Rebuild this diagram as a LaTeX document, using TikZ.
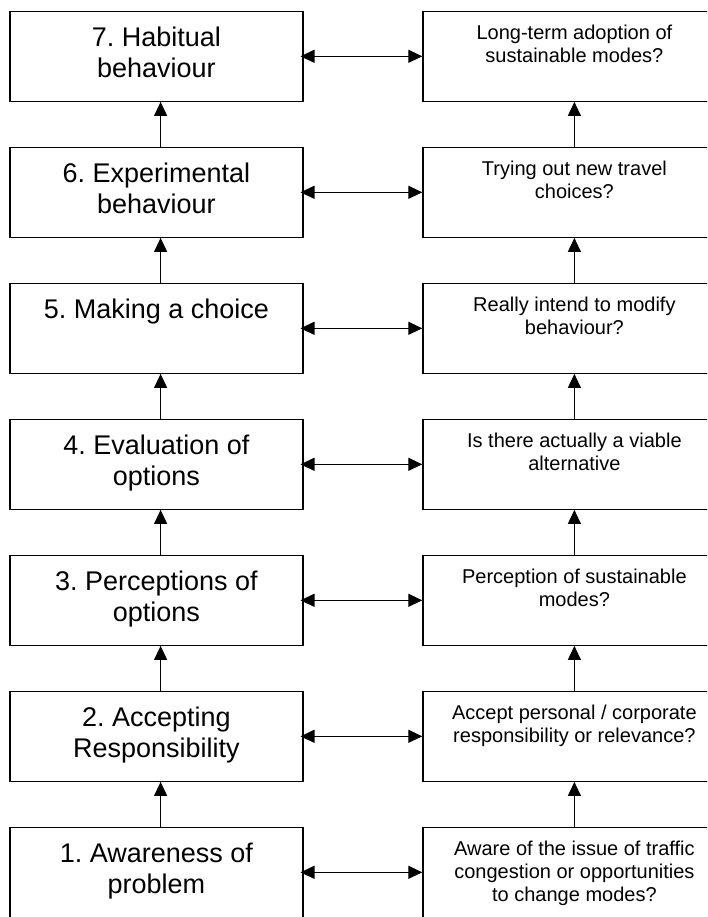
\documentclass[tikz,border=0pt]{standalone}
\usepackage{fontspec}
\setmainfont{Liberation Sans}
\usetikzlibrary{arrows.meta}
\frenchspacing
\begin{document}
\begin{tikzpicture}[x=1pt,y=-1pt,
  stagebox/.style={draw=black,line width=1.2pt,minimum width=293pt,minimum height=90pt,inner sep=0pt,anchor=north west},
  askbox/.style={draw=black,line width=1.2pt,minimum width=303pt,minimum height=90pt,inner sep=0pt,anchor=north west},
  stagetext/.style={anchor=north,inner sep=0pt,align=center,font=\fontsize{27}{31.5}\selectfont},
  asktext/.style={anchor=north,inner sep=0pt,align=center,font=\fontsize{20}{23}\selectfont},
  tip/.style={Triangle[length=14pt,width=13pt]},
  link/.style={line width=1.2pt,{Triangle[length=14pt,width=13pt]}-{Triangle[length=14pt,width=13pt]}},
  upward/.style={line width=1.2pt,-{Triangle[length=14pt,width=13pt]}}
]
\useasboundingbox (0,0) rectangle (707,917);
\clip (0,0) rectangle (707,917);

% stage boxes (left) and question boxes (right), stage 7 at the top
\foreach \i/\lab/\ask [evaluate=\i as \top using {10.7+136*(7-\i)}] in {
  7/{7. Habitual\\behaviour}/{Long-term adoption of\\sustainable modes?},
  6/{6. Experimental\\behaviour}/{Trying out new travel\\choices?},
  5/{5. Making a choice}/{Really intend to modify\\behaviour?},
  4/{4. Evaluation of\\options}/{Is there actually a viable\\alternative},
  3/{3. Perceptions of\\options}/{Perception of sustainable\\modes?},
  2/{2. Accepting\\Responsibility}/{Accept personal / corporate\\responsibility or relevance?},
  1/{1. Awareness of\\problem}/{Aware of the issue of traffic\\congestion or opportunities\\to change modes?}} {
  \node[stagebox] (L\i) at (9.3,\top) {};
  \node[askbox] (R\i) at (422.3,\top) {};
  \node[stagetext] (L\i t) at ([yshift=-16pt]L\i.north) {\lab};
  \node[asktext] (R\i t) at ([yshift=-14.2pt]R\i.north) {\ask};
  \draw[link] ([xshift=-3pt]L\i.east) -- (R\i.west);
}

% upward steps between consecutive stages
\foreach \i/\j in {1/2,2/3,3/4,4/5,5/6,6/7} {
  \draw[upward] ([xshift=4.2pt]L\i.north) -- ([xshift=4.2pt]L\j.south);
  \draw[upward] (R\i.north) -- (R\j.south);
}
\end{tikzpicture}
\end{document}
